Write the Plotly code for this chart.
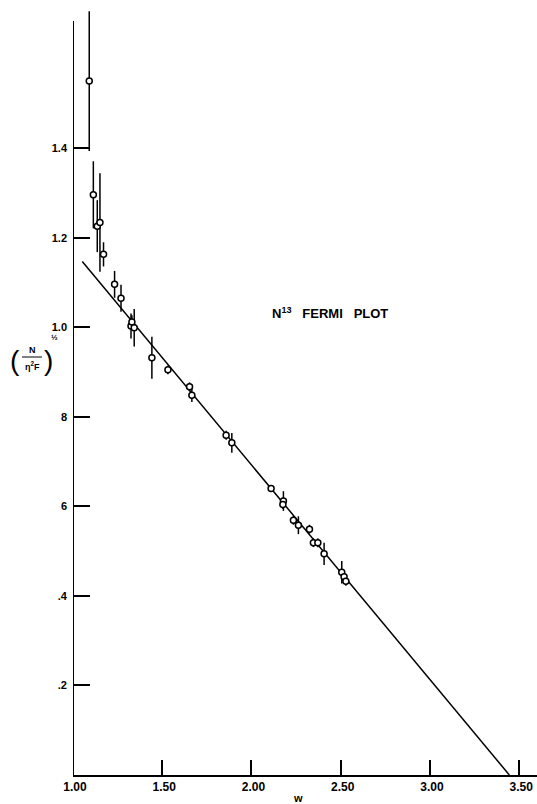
import plotly.graph_objects as go

# Measured points (W, (N/eta^2 F)^1/2, error)
w = [1.091, 1.114, 1.136, 1.151, 1.171, 1.233, 1.269, 1.325, 1.330, 1.343,
     1.442, 1.532, 1.653, 1.666, 1.858, 1.890, 2.110, 2.179, 2.176, 2.235,
     2.263, 2.325, 2.347, 2.372, 2.407, 2.506, 2.519, 2.529]
kurie = [1.550, 1.296, 1.226, 1.234, 1.163, 1.096, 1.065, 1.003, 1.012, 0.999,
         0.932, 0.905, 0.867, 0.848, 0.759, 0.742, 0.640, 0.612, 0.604, 0.569,
         0.558, 0.549, 0.519, 0.519, 0.494, 0.453, 0.443, 0.433]
err = [0.156, 0.075, 0.058, 0.110, 0.027, 0.030, 0.030, 0.028, 0.015, 0.042,
       0.047, 0.010, 0.010, 0.015, 0.010, 0.022, 0.008, 0.022, 0.010, 0.010,
       0.020, 0.010, 0.010, 0.010, 0.025, 0.025, 0.010, 0.010]

# Fitted straight line
fit_w = [1.052, 3.445]
fit_y = [1.147, 0.0]

xtick_vals = [1.0, 1.5, 2.0, 2.5, 3.0, 3.5]
xtick_text = ["1.00", "1.50", "2.00", "2.50", "3.00", "3.50"]
ytick_vals = [0.2, 0.4, 0.6, 0.8, 1.0, 1.2, 1.4]
ytick_text = [".2", ".4", "6", "8", "1.0", "1.2", "1.4"]

FONT = "Liberation Sans"

fig = go.Figure()
fig.add_trace(go.Scatter(x=fit_w, y=fit_y, mode="lines",
                         line=dict(color="black", width=1.5),
                         showlegend=False, hoverinfo="skip"))
fig.add_trace(go.Scatter(
    x=w, y=kurie, mode="markers",
    marker=dict(symbol="circle", size=6, color="white",
                line=dict(color="black", width=1.5)),
    error_y=dict(type="data", array=err, visible=True, color="black",
                 thickness=1.5, width=0),
    showlegend=False))

L, T, B = 73, 5, 29
W, H = 537, 804
pw, ph = W - L, H - T - B


def px(xp):
    return (xp - L) / pw


def py(yp):
    return (H - B - yp) / ph


fig.update_layout(
    width=W, height=H,
    margin=dict(l=L, r=0, t=T, b=B, pad=0),
    paper_bgcolor="white", plot_bgcolor="white",
    font=dict(family=FONT, color="black"),
    xaxis=dict(range=[1.0, 3.6], tickvals=xtick_vals, ticktext=xtick_text,
               ticks="inside", ticklen=15, tickwidth=1.5, tickcolor="black",
               showline=True, linewidth=2, linecolor="black",
               showgrid=False, zeroline=False, ticklabelshift=2,
               tickfont=dict(family=FONT, size=12, weight="bold", color="black")),
    yaxis=dict(range=[0, 1.72], tickvals=ytick_vals, ticktext=ytick_text,
               ticks="inside", ticklen=17, tickwidth=1.5, tickcolor="black",
               showline=False, showgrid=False, zeroline=False,
               ticklabelstandoff=5,
               tickfont=dict(family=FONT, size=11, weight="bold", color="black")),
    shapes=[
        dict(type="line", xref="x", yref="y", x0=1.0, x1=1.0, y0=0, y1=1.684,
             line=dict(color="black", width=2)),
        dict(type="line", xref="paper", yref="paper",
             x0=px(22), x1=px(42), y0=py(357), y1=py(357),
             line=dict(color="black", width=1)),
    ],
    annotations=[
        dict(text="N<sup>13</sup>\u00a0\u00a0\u00a0FERMI\u00a0\u00a0\u00a0PLOT",
             xref="paper", yref="paper", x=px(270), y=py(313),
             xanchor="left", yanchor="middle", showarrow=False,
             font=dict(family=FONT, size=13, weight="bold")),
        dict(text="w", xref="paper", yref="paper", x=px(298), y=py(790),
             xanchor="center", yanchor="top", showarrow=False,
             font=dict(family=FONT, size=11, weight="bold")),
        dict(text="(", xref="paper", yref="paper", x=px(15), y=py(360),
             xanchor="center", yanchor="middle", showarrow=False,
             font=dict(family=FONT, size=28)),
        dict(text=")", xref="paper", yref="paper", x=px(48), y=py(360),
             xanchor="center", yanchor="middle", showarrow=False,
             font=dict(family=FONT, size=28)),
        dict(text="N", xref="paper", yref="paper", x=px(32), y=py(350),
             xanchor="center", yanchor="middle", showarrow=False,
             font=dict(family=FONT, size=9, weight="bold")),
        dict(text="\u03b7<sup>2</sup>F", xref="paper", yref="paper", x=px(32), y=py(366),
             xanchor="center", yanchor="middle", showarrow=False,
             font=dict(family=FONT, size=9, weight="bold")),
        dict(text="\u00bd", xref="paper", yref="paper", x=px(54), y=py(337),
             xanchor="center", yanchor="middle", showarrow=False,
             font=dict(family=FONT, size=8, weight="bold")),
    ],
)

fig.write_html("out.html", config={"displayModeBar": False},
               post_script="document.body.style.margin='0';"
                           "document.body.style.overflow='hidden';")
